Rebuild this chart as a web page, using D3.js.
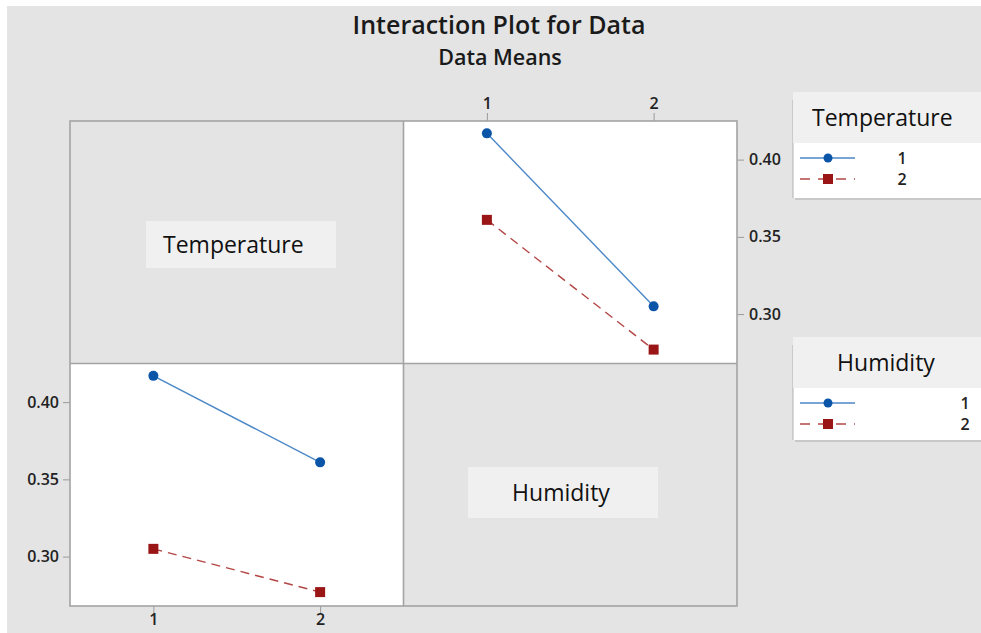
<!DOCTYPE html>
<html><head><meta charset="utf-8">
<script src="https://cdn.jsdelivr.net/npm/d3@7"></script>
<style>
html,body{margin:0;padding:0;background:#fff;}
svg{display:block;}
text{font-family:"Open Sans","Noto Sans",sans-serif;}
</style></head>
<body>
<script>
// ---- data ----
const factors = ["Temperature", "Humidity"];
const levels = [1, 2];
// Means: row = Temperature level, column = Humidity level
const meansTemp1 = [0.417, 0.305];
const meansTemp2 = [0.361, 0.277];
const yTicks = [0.30, 0.35, 0.40];
const yDomain = [0.268, 0.425];
const xDomain = [0.5, 2.5];

(function () {
const W = 981, H = 633;
const svg = d3.select("body").append("svg").attr("width", W).attr("height", H);
svg.append("rect").attr("width", W).attr("height", H).attr("fill", "#fff");
svg.append("rect").attr("x", 7).attr("y", 6).attr("width", W - 7).attr("height", H - 6).attr("fill", "#e4e4e4");

// title
svg.append("text").attr("x", 499).attr("y", 34).attr("text-anchor", "middle")
  .attr("font-size", 25).attr("font-weight", 600).attr("fill", "#1a1a1a").text("Interaction Plot for Data");
svg.append("text").attr("x", 500).attr("y", 65).attr("text-anchor", "middle")
  .attr("font-size", 21.5).attr("font-weight", 600).attr("fill", "#1a1a1a").text("Data Means");

const blue = "#0b55a8", blueLine = "#4b87c7";
const red = "#9a1515", redLine = "#b34545";

const gx0 = 70, gy0 = 121, cw = 333.5, ch = 242.5;
const x = d3.scaleLinear().domain(xDomain).range([0, cw]);
const y = d3.scaleLinear().domain(yDomain).range([ch, 0]);

// panels
const cells = [
  {r: 0, c: 0, diag: "Temperature"},
  {r: 0, c: 1},
  {r: 1, c: 0},
  {r: 1, c: 1, diag: "Humidity"}
];
cells.forEach(cell => {
  const g = svg.append("g").attr("transform", `translate(${gx0 + cell.c * cw},${gy0 + cell.r * ch})`);
  g.append("rect").attr("width", cw).attr("height", ch)
    .attr("fill", cell.diag ? "#e4e4e4" : "#fff");
  cell.g = g;
});

function drawSeries(g, values, color, lineColor, marker, dashed) {
  const line = d3.line().x((d, i) => x(levels[i])).y(d => y(d));
  g.append("path").datum(values).attr("d", line).attr("fill", "none")
    .attr("stroke", lineColor).attr("stroke-width", 1.4)
    .attr("stroke-dasharray", dashed ? "9,6" : null);
  values.forEach((v, i) => {
    if (marker === "circle") {
      g.append("circle").attr("cx", x(levels[i])).attr("cy", y(v)).attr("r", 5).attr("fill", color);
    } else {
      g.append("rect").attr("x", x(levels[i]) - 5).attr("y", y(v) - 5).attr("width", 10).attr("height", 10).attr("fill", color);
    }
  });
}

// top-right: x = Humidity, series = Temperature
const tr = cells[1].g;
drawSeries(tr, meansTemp1, blue, blueLine, "circle", false);
drawSeries(tr, meansTemp2, red, redLine, "square", true);
// bottom-left: x = Temperature, series = Humidity
const bl = cells[2].g;
drawSeries(bl, [meansTemp1[0], meansTemp2[0]], blue, blueLine, "circle", false);
drawSeries(bl, [meansTemp1[1], meansTemp2[1]], red, redLine, "square", true);

// axes
function styleAxis(a) {
  a.select(".domain").remove();
  a.selectAll("line").attr("stroke", "#9a9a9a");
  a.selectAll("text").attr("font-size", 16).attr("font-weight", 600).attr("fill", "#222")
    .style("font-family", '"Open Sans","Noto Sans",sans-serif');
}
const fmt = d3.format(".2f");
styleAxis(tr.append("g").call(d3.axisTop(x).tickValues(levels).tickSize(8).tickPadding(4).tickFormat(d3.format("d"))));
styleAxis(tr.append("g").attr("transform", `translate(${cw},0)`).call(d3.axisRight(y).tickValues(yTicks).tickSize(7).tickPadding(5).tickFormat(fmt)));
styleAxis(bl.append("g").call(d3.axisLeft(y).tickValues(yTicks).tickSize(7).tickPadding(4).tickFormat(fmt)));
styleAxis(bl.append("g").attr("transform", `translate(0,${ch})`).call(d3.axisBottom(x).tickValues(levels).tickSize(7).tickPadding(1).tickFormat(d3.format("d"))));

// grid frame
const frame = svg.append("g").attr("fill", "none").attr("stroke", "#a3a3a3").attr("stroke-width", 1.6);
frame.append("rect").attr("x", gx0).attr("y", gy0).attr("width", cw * 2).attr("height", ch * 2);
frame.append("line").attr("x1", gx0 + cw).attr("x2", gx0 + cw).attr("y1", gy0).attr("y2", gy0 + 2 * ch);
frame.append("line").attr("x1", gx0).attr("x2", gx0 + 2 * cw).attr("y1", gy0 + ch).attr("y2", gy0 + ch);

// diagonal labels
function labelBox(cx, cy, w, h, txt, tx, anchor) {
  svg.append("rect").attr("x", cx).attr("y", cy).attr("width", w).attr("height", h).attr("fill", "#f0f0f0");
  svg.append("text").attr("x", tx).attr("y", cy + h / 2 + 8).attr("text-anchor", anchor)
    .attr("font-size", 23).attr("fill", "#111").text(txt);
}
labelBox(146, 221, 190, 47, factors[0], 163, "start");
labelBox(468, 467, 190, 51, factors[1], 561, "middle");

// legends
function legend(ly, headH, bodyH, title, titleX, titleAnchor, labX) {
  const g = svg.append("g").attr("transform", `translate(793,${ly})`);
  g.append("rect").attr("x", 2).attr("y", 2).attr("width", 190).attr("height", headH + bodyH).attr("fill", "#c8c8c8");
  g.append("rect").attr("width", 190).attr("height", headH + bodyH).attr("fill", "#fff");
  g.append("line").attr("x1", 0).attr("x2", 0).attr("y1", 8).attr("y2", headH + bodyH).attr("stroke", "#b0b0b0");
  g.append("rect").attr("width", 190).attr("height", headH).attr("fill", "#f0f0f0");
  g.append("text").attr("x", titleX).attr("y", headH / 2 + 8).attr("text-anchor", titleAnchor)
    .attr("font-size", 23).attr("fill", "#111").text(title);
  const ent = [
    {c: blue, lc: blueLine, m: "circle", d: null},
    {c: red, lc: redLine, m: "square", d: "10,8"}
  ];
  ent.forEach((e, i) => {
    const yy = headH + 15 + i * 21;
    g.append("line").attr("x1", 7).attr("x2", 62).attr("y1", yy).attr("y2", yy)
      .attr("stroke", e.lc).attr("stroke-width", 1.4).attr("stroke-dasharray", e.d);
    if (e.m === "circle") g.append("circle").attr("cx", 35).attr("cy", yy).attr("r", 4.5).attr("fill", e.c);
    else g.append("rect").attr("x", 30).attr("y", yy - 5).attr("width", 10).attr("height", 10).attr("fill", e.c);
    g.append("text").attr("x", labX).attr("y", yy + 6).attr("text-anchor", "middle")
      .attr("font-size", 16).attr("font-weight", 600).attr("fill", "#222").text(levels[i]);
  });
}
legend(92, 51, 55, factors[0], 19, "start", 109);
legend(337, 51, 52, factors[1], 93, "middle", 172);
})();
</script>
</body></html>
